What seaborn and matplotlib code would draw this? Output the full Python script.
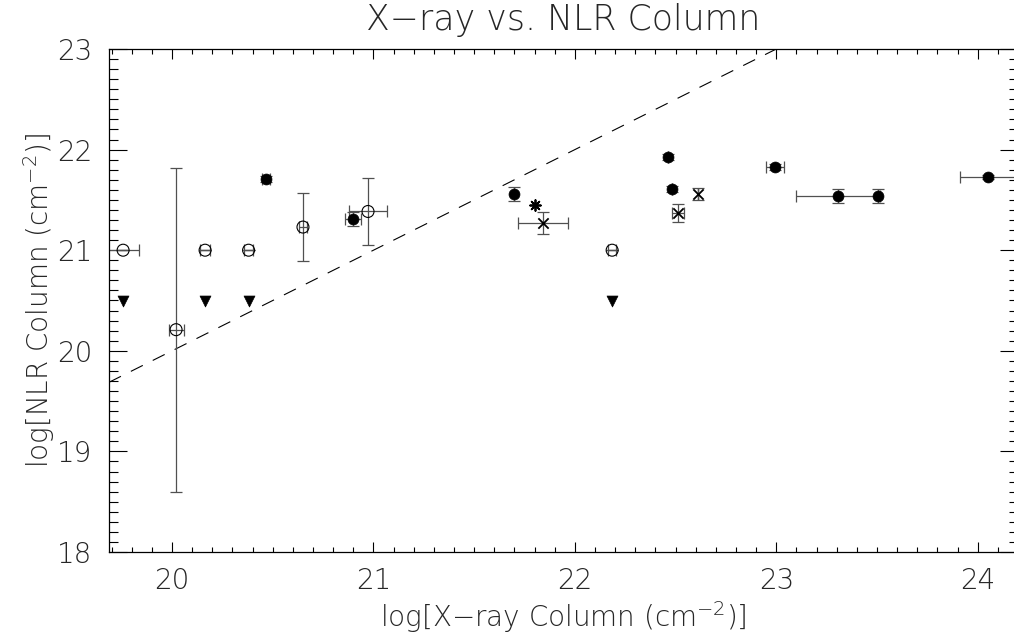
import numpy as np
import pandas as pd
import matplotlib
matplotlib.use("Agg")
import matplotlib.pyplot as plt
import seaborn as sns

# Filled circles: sources with well-measured columns
filled_x = [20.467, 20.90, 21.70, 22.46, 22.48, 22.994, 23.307, 23.505, 24.05]
filled_y = [21.71, 21.31, 21.56, 21.93, 21.61, 21.83, 21.54, 21.54, 21.73]
filled_xerr = [0.02, 0.04, 0.0, 0.0, 0.0, 0.045, 0.21, 0.0, 0.14]
filled_yerr = [0.03, 0.07, 0.07, 0.03, 0.03, 0.03, 0.07, 0.07, 0.02]

# Open circles
open_x = [19.757, 20.02, 20.164, 20.38, 20.65, 20.973, 22.185]
open_y = [21.0, 20.21, 21.0, 21.0, 21.23, 21.385, 21.0]
open_xerr = [0.08, 0.037, 0.025, 0.022, 0.018, 0.092, 0.02]
open_yerr = [0.0, 1.61, 0.0, 0.0, 0.34, 0.333, 0.0]

# Upper limits (downward triangles)
limit_x = [19.757, 20.164, 20.38, 22.185]
limit_y = [20.5, 20.5, 20.5, 20.5]

# Crosses
cross_x = [21.84, 22.51, 22.61]
cross_y = [21.27, 21.37, 21.56]
cross_xerr = [0.124, 0.03, 0.0]
cross_yerr = [0.11, 0.09, 0.06]

# Asterisk
star_x = [21.80]
star_y = [21.45]

x_range = (19.687, 24.2)
y_range = (18.0, 23.0)
x_ticks = [20, 21, 22, 23, 24]
y_ticks = [18, 19, 20, 21, 22, 23]

sns.set_style("white")
FONT = ["DejaVu Sans", "Roboto"]
plt.rcParams["font.family"] = FONT
plt.rcParams["font.weight"] = "light"
plt.rcParams["axes.labelweight"] = "light"
plt.rcParams["mathtext.fontset"] = "custom"
plt.rcParams["mathtext.rm"] = "DejaVu Sans:light"
plt.rcParams["mathtext.it"] = "DejaVu Sans:light"
plt.rcParams["mathtext.default"] = "regular"

W, H = 1014, 636
fig = plt.figure(figsize=(W / 100, H / 100), dpi=100)
left, right, top, bottom = 109, 1018, 49, 552
ax = fig.add_axes([left / W, (H - bottom) / H, (right - left) / W, (bottom - top) / H])

bar_color = "#505050"
bar_kw = dict(fmt="none", ecolor=bar_color, elinewidth=0.9, capsize=4.3, capthick=0.9, zorder=2)

ax.errorbar(filled_x, filled_y, xerr=filled_xerr, yerr=filled_yerr, **bar_kw)
ax.errorbar(open_x, open_y, xerr=open_xerr, yerr=open_yerr, **bar_kw)
ax.errorbar(cross_x, cross_y, xerr=cross_xerr, yerr=cross_yerr, **bar_kw)

# One-to-one reference line
ref = pd.DataFrame({"x": list(x_range), "y": list(x_range)})
sns.lineplot(data=ref, x="x", y="y", ax=ax, color="black", lw=0.8,
             dashes=False, zorder=1)
ax.lines[-1].set_dashes([12, 10])

filled = pd.DataFrame({"x": filled_x, "y": filled_y})
opened = pd.DataFrame({"x": open_x, "y": open_y})
limits = pd.DataFrame({"x": limit_x, "y": limit_y})
crosses = pd.DataFrame({"x": cross_x, "y": cross_y})
stars = pd.DataFrame({"x": star_x, "y": star_y})

sns.scatterplot(data=filled, x="x", y="y", ax=ax, marker="o", s=62,
                color="black", edgecolor="black", linewidth=0.5, zorder=3)
sns.scatterplot(data=opened, x="x", y="y", ax=ax, marker="o", s=74,
                color="black", facecolors="none", edgecolor="black",
                linewidth=0.8, zorder=3)
sns.scatterplot(data=limits, x="x", y="y", ax=ax, marker="v", s=62,
                color="black", edgecolor="black", linewidth=0.5, zorder=3)
sns.scatterplot(data=crosses, x="x", y="y", ax=ax, marker="x", s=55,
                color="black", linewidth=1.3, zorder=3)
sns.scatterplot(data=stars, x="x", y="y", ax=ax, marker=(8, 2, 0), s=60,
                color="black", linewidth=1.3, zorder=3)

ax.set_xlim(*x_range)
ax.set_ylim(*y_range)
ax.set_xticks(x_ticks)
ax.set_yticks(y_ticks)
ax.set_xticks(np.arange(19.7, 24.21, 0.1), minor=True)
ax.set_yticks(np.arange(18.0, 23.01, 0.1), minor=True)

ax.tick_params(axis="both", which="both", direction="in",
               bottom=True, left=True, top=True, right=True,
               color="black", width=0.8, labelsize=20)
ax.tick_params(axis="x", which="major", length=7.2, pad=11)
ax.tick_params(axis="x", which="minor", length=3.6)
ax.tick_params(axis="y", which="major", length=13, pad=12)
ax.tick_params(axis="y", which="minor", length=6.5)
for s in ax.spines.values():
    s.set_color("black")
    s.set_linewidth(0.9)

ax.set_xlabel(r"log[X$-$ray Column (cm$^{-2}$)]", fontsize=20,
              fontweight="light", labelpad=3)
ax.set_ylabel(r"log[NLR Column (cm$^{-2}$)]", fontsize=20,
              fontweight="light", labelpad=0)
fig.text((109 + 1018) / 2 / W, 1 - 20 / H, "X\u2212ray vs. NLR Column",
         fontsize=25, fontweight="light", ha="center", va="center")

fig.savefig("out.png", dpi=100)
